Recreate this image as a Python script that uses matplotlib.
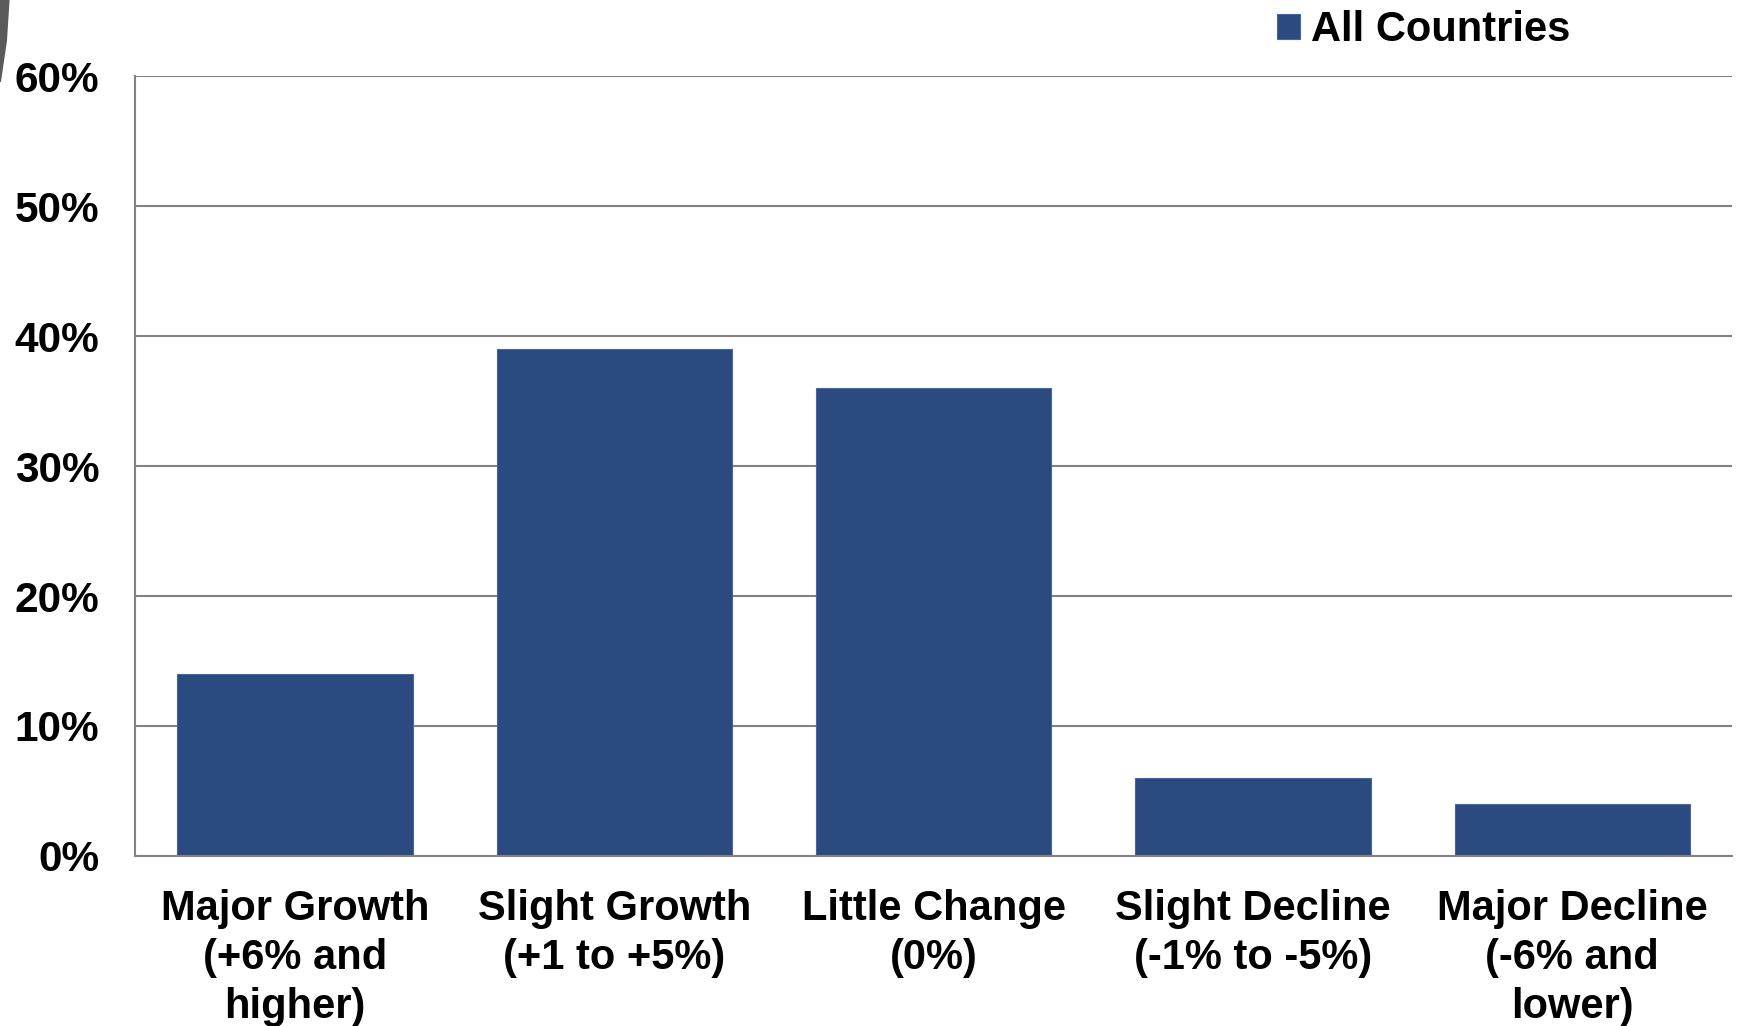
import matplotlib.pyplot as plt
from matplotlib.patches import Polygon
from matplotlib.ticker import FuncFormatter

categories = ["Major Growth\n(+6% and\nhigher)", "Slight Growth\n(+1 to +5%)",
              "Little Change\n(0%)", "Slight Decline\n(-1% to -5%)",
              "Major Decline\n(-6% and\nlower)"]
all_countries = [14, 39, 36, 6, 4]
y_ticks = [0, 10, 20, 30, 40, 50, 60]

bar_color = "#2a4a80"
grid_color = "#828282"

plt.rcParams["font.family"] = ["Liberation Sans", "DejaVu Sans"]
plt.rcParams["font.weight"] = "bold"

fig = plt.figure(figsize=(17.41, 10.26), dpi=100)
ax = fig.add_axes([0.0778, 0.1657, 0.917, 0.7602])

x = range(len(categories))
ax.bar(x, all_countries, width=0.737, color=bar_color, edgecolor="#4a6699",
       linewidth=0.8, label="All Countries", zorder=3)

ax.set_xlim(-0.5, len(categories) - 0.5)
ax.set_ylim(0, 60)
ax.set_yticks(y_ticks)
ax.yaxis.set_major_formatter(FuncFormatter(lambda v, p: f"{v:.0f}%"))
ax.set_xticks(list(x))
ax.set_xticklabels(categories, fontsize=30, fontweight="bold", linespacing=1.29)
ax.tick_params(axis="y", length=0, pad=26, labelsize=30.5)
ax.tick_params(axis="x", length=0, pad=24)

ax.grid(axis="y", color=grid_color, linewidth=1.5, zorder=0)
for side in ["top", "right"]:
    ax.spines[side].set_visible(False)
ax.spines["left"].set_color(grid_color)
ax.spines["left"].set_linewidth(1.5)
ax.spines["bottom"].set_color(grid_color)
ax.spines["bottom"].set_linewidth(1.5)
ax.spines["bottom"].set_zorder(4)

leg = fig.legend(loc="center left", bbox_to_anchor=(0.7242, 0.9708), frameon=False,
                 fontsize=30, handlelength=0.55, handleheight=0.55,
                 handletextpad=0.25, borderaxespad=0)
for t in leg.get_texts():
    t.set_fontweight("bold")

# dark sliver of a slide shape in the corner
fig.patches.append(Polygon([(0, 1), (0.0055, 1), (0.004, 0.96), (0.0005, 0.92), (0, 0.92)],
                           closed=True, transform=fig.transFigure,
                           facecolor="#5a5a5a", edgecolor="none"))

fig.savefig("out.png", dpi=100)
